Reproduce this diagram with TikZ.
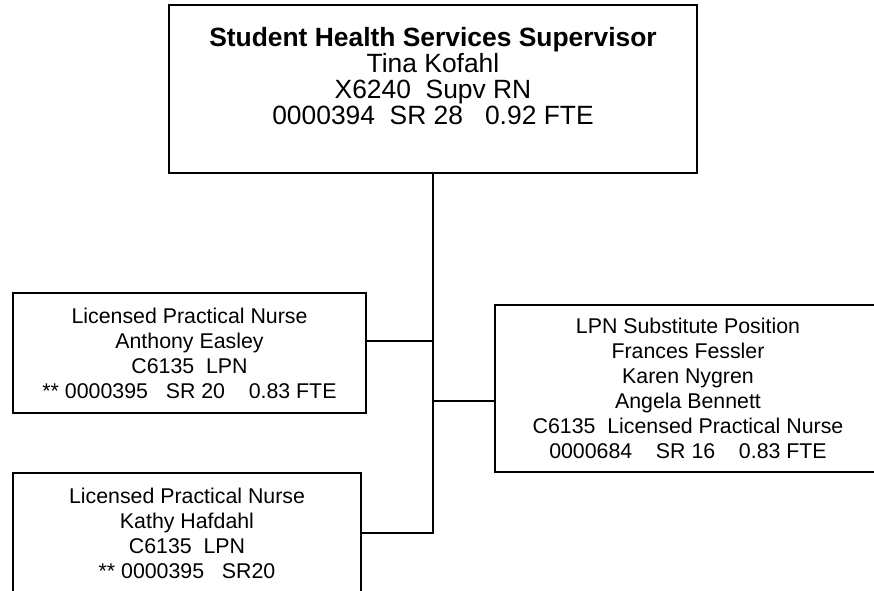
\documentclass[tikz,border=0pt]{standalone}
\usepackage{fontspec}
\setmainfont{Liberation Sans}
\usepackage{xcolor}
\usepackage{tikz}
\usetikzlibrary{positioning,calc}
\definecolor{ChartInk}{HTML}{000000}
\definecolor{ChartPaper}{HTML}{FFFFFF}

\begin{document}
\begin{tikzpicture}[x=0.75pt,y=-0.75pt,
    posbox/.style={draw=ChartInk,line width=1.5pt,fill=ChartPaper,inner sep=0pt},
    postext/.style={text=ChartInk,align=center,font=\fontsize{16}{18.75}\selectfont},
    link/.style={draw=ChartInk,line width=1pt}]
  \useasboundingbox (0,0) rectangle (874,591);
  \clip (0,0) rectangle (874,591);
  % Supervisor.
  \node[posbox,minimum width=396pt,minimum height=126pt] (sup) at (433,89) {};
  \node[postext,font=\fontsize{19.8}{19.4}\selectfont] (supText) at (433,76)
        {\textbf{Student Health Services Supervisor}\\Tina Kofahl\\
         X6240\ \ Supv RN\\0000394\ \ SR 28\ \ \ 0.92 FTE};
  % First nurse.
  \node[posbox,postext,minimum width=264.75pt,minimum height=90pt] (lpnA) at (189.5,353)
        {Licensed Practical Nurse\\Anthony Easley\\C6135\ \ LPN\\
         ** 0000395\ \ \ SR 20\ \ \ \ 0.83 FTE};
  % Second nurse.
  \node[posbox,postext,minimum width=261pt,minimum height=90pt] (lpnB) at (187,533)
        {Licensed Practical Nurse\\Kathy Hafdahl\\C6135\ \ LPN\\
         ** 0000395\ \ \ SR20};
  % Substitute pool.
  \node[posbox,postext,minimum width=289.5pt,minimum height=125.25pt] (sub) at (688,388.5)
        {LPN Substitute Position\\Frances Fessler\\Karen Nygren\\Angela Bennett\\
         C6135\ \ Licensed Practical Nurse\\0000684\ \ \ \ SR 16\ \ \ \ 0.83 FTE};
  % Reporting lines.
  \draw[link] (sup.south) -- (sup.south |- lpnB.east) -- (lpnB.east);
  \draw[link] ([yshift=9pt]lpnA.east) -- ([yshift=9pt]lpnA.east -| sup.south);
  \draw[link] ([yshift=-9.4pt]sub.west) -- ([yshift=-9.4pt]sub.west -| sup.south);
\end{tikzpicture}
\end{document}
